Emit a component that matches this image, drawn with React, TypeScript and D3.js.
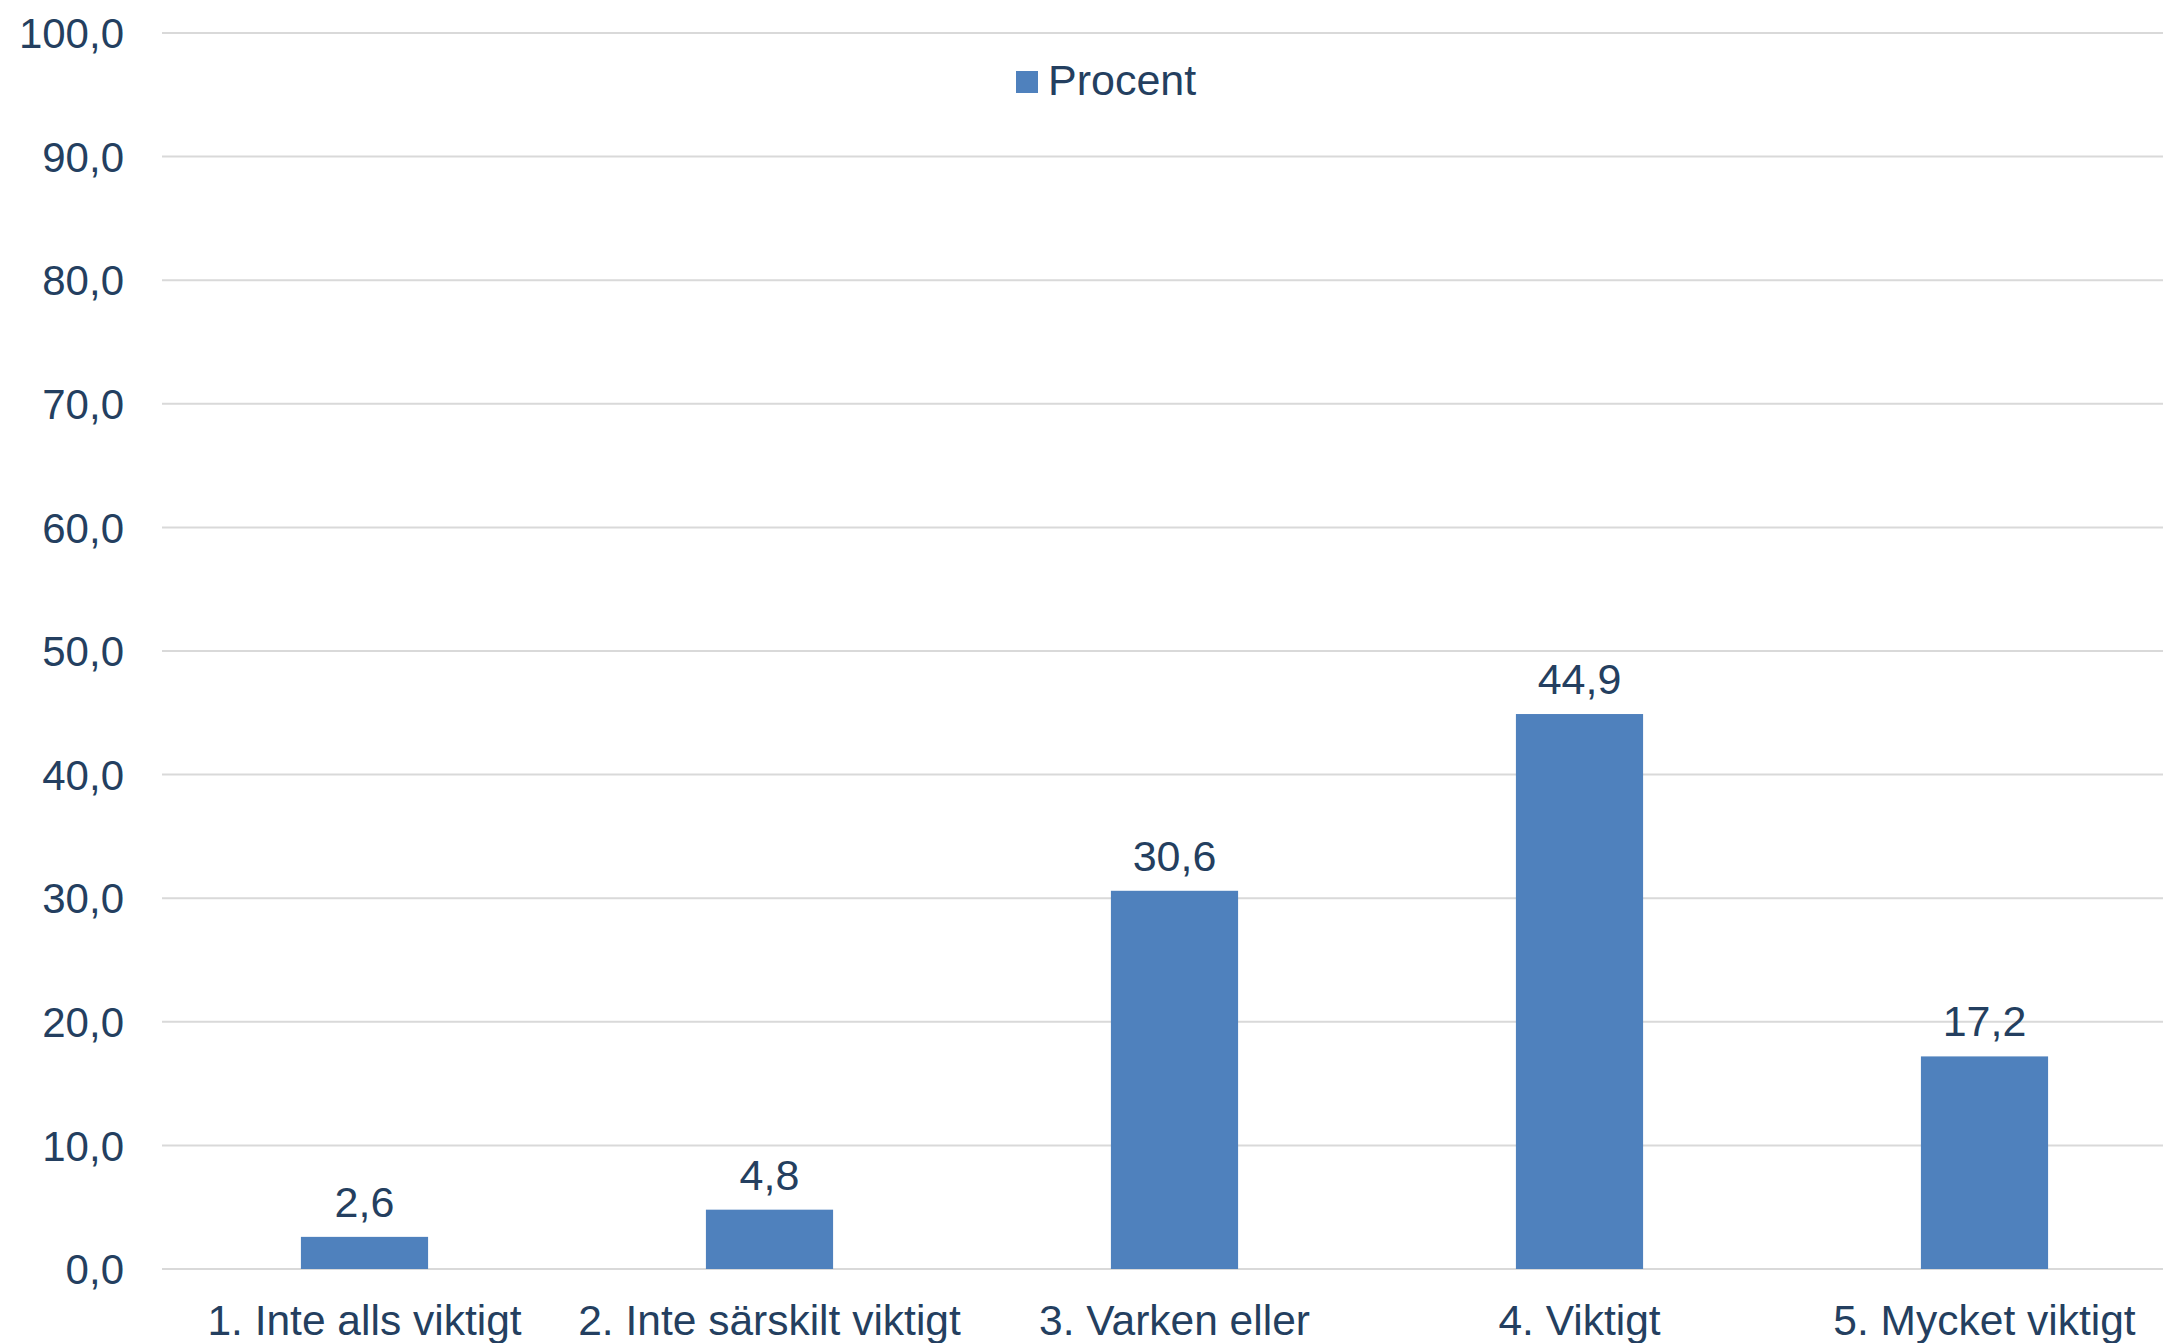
import React from "react";
import * as d3 from "d3";

const categories = [
  "1. Inte alls viktigt",
  "2. Inte särskilt viktigt",
  "3. Varken eller",
  "4. Viktigt",
  "5. Mycket viktigt",
];
const values = [2.6, 4.8, 30.6, 44.9, 17.2];
const yTicks = [0, 10, 20, 30, 40, 50, 60, 70, 80, 90, 100];
const seriesName = "Procent";

const W = 2163;
const H = 1343;
const FONT = "'Liberation Sans', Arial, sans-serif";
const TEXT = "#243F60";
const BAR = "#4F81BD";
const GRID = "#D9D9D9";

export default function App() {
  const x = d3.scaleBand<string>().domain(categories).range([162, 2187]).padding(0);
  const y = d3.scaleLinear().domain([0, 100]).range([1269, 33]);
  const fmt = (v: number) => v.toFixed(1).replace(".", ",");
  const barW = x.bandwidth() * 0.314;

  return (
    <svg
      width={W}
      height={H}
      style={{ position: "absolute", left: 0, top: 0, background: "#fff" }}
      fontFamily={FONT}
    >
      <rect x={0} y={0} width={W} height={H} fill="#fff" />
      {yTicks.map((t) => (
        <g key={t}>
          <line x1={162} x2={W} y1={y(t)} y2={y(t)} stroke={GRID} strokeWidth={2} />
          <text
            x={124}
            y={y(t)}
            dy="0.36em"
            textAnchor="end"
            fontSize={42}
            fill={TEXT}
          >
            {fmt(t)}
          </text>
        </g>
      ))}
      {categories.map((c, i) => {
        const cx = (x(c) as number) + x.bandwidth() / 2;
        return (
          <g key={c}>
            <rect
              x={cx - barW / 2}
              y={y(values[i])}
              width={barW}
              height={y(0) - y(values[i])}
              fill={BAR}
            />
            <text
              x={cx}
              y={y(values[i]) - 20}
              textAnchor="middle"
              fontSize={43}
              fill={TEXT}
            >
              {fmt(values[i])}
            </text>
            <text x={cx} y={1335} textAnchor="middle" fontSize={42.5} fill={TEXT}>
              {c}
            </text>
          </g>
        );
      })}
      <rect x={1016} y={71} width={22} height={22} fill={BAR} />
      <text x={1048} y={95} fontSize={43} fill={TEXT}>
        {seriesName}
      </text>
    </svg>
  );
}
